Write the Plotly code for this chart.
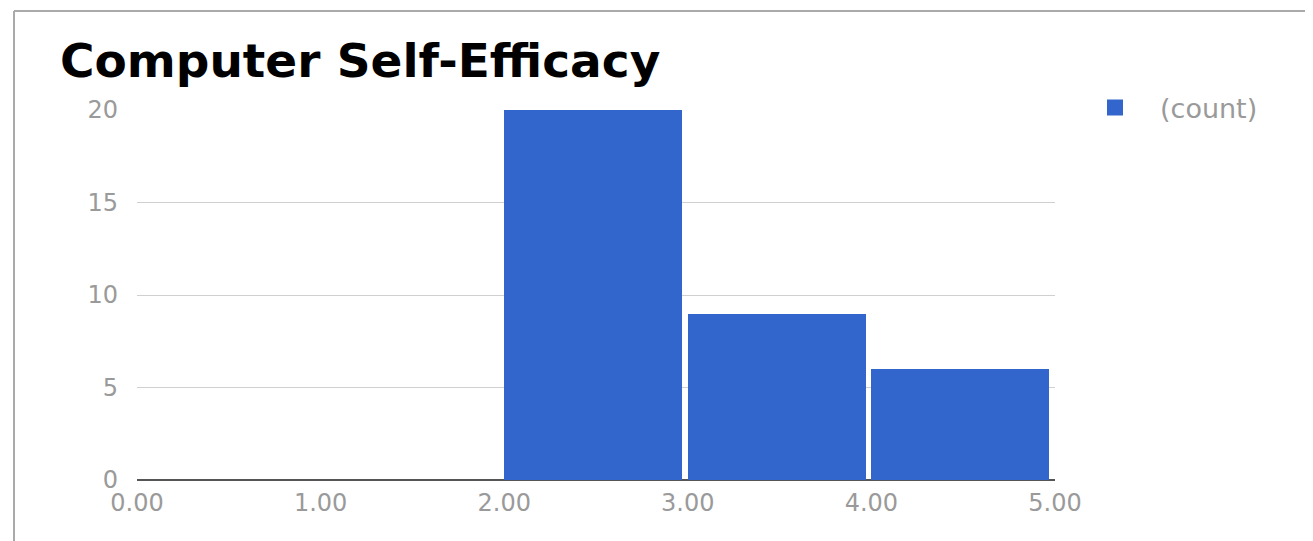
import plotly.graph_objects as go

# ---- data ----
bin_starts = [0.0, 1.0, 2.0, 3.0, 4.0]
counts = [0, 0, 20, 9, 6]
series_name = "(count)"
title_text = "Computer Self-Efficacy"
x_tick_vals = [0, 1, 2, 3, 4, 5]
x_tick_text = ["0.00", "1.00", "2.00", "3.00", "4.00", "5.00"]
y_tick_vals = [0, 5, 10, 15, 20]

OFF = 8  # browser body margin
W, H = 1313 - OFF, 541 - OFF
L, R, T, B = 137 - OFF, 258, 110 - OFF, 61
pw, ph = W - L - R, H - T - B

def px_x(p):
    return (p - OFF - L) / pw

def px_y(p):
    return (H - B - (p - OFF)) / ph

fig = go.Figure()
fig.add_trace(go.Bar(
    x=bin_starts, y=counts, width=0.97, offset=0.0,
    name=series_name, marker=dict(color="#3366cc", line=dict(width=0)),
    showlegend=False, legendgroup="c",
))
fig.add_trace(go.Scatter(
    x=[None], y=[None], mode="markers", name=series_name, legendgroup="c",
    marker=dict(symbol="square", size=30, color="#3366cc"), showlegend=True,
))

tick_font = dict(family="DejaVu Sans", size=24, color="#9a9a9a")

fig.update_layout(
    width=W, height=H,
    margin=dict(l=L, r=R, t=T, b=B),
    paper_bgcolor="white", plot_bgcolor="white",
    title=dict(text=title_text, x=(60 - OFF) / W, xref="container", xanchor="left",
               y=1 - (61 - OFF) / H, yref="container", yanchor="middle",
               font=dict(family="DejaVu Sans", size=47, color="#000000", weight="bold")),
    xaxis=dict(range=[0, 5], tickvals=x_tick_vals, ticktext=x_tick_text,
               showgrid=False, zeroline=False, showline=False,
               tickfont=tick_font, ticks="", ticklabelstandoff=6, fixedrange=True),
    yaxis=dict(range=[0, 20], tickvals=y_tick_vals, showgrid=True,
               gridcolor="#d0d0d0", gridwidth=1, zeroline=True,
               zerolinecolor="#555555", zerolinewidth=2, showline=False,
               tickfont=tick_font, ticks="", ticklabelstandoff=18, fixedrange=True),
    legend=dict(x=px_x(1070), y=px_y(108), xanchor="left", yanchor="middle",
                font=dict(family="DejaVu Sans", size=27, color="#9a9a9a"),
                itemwidth=80, bgcolor="rgba(0,0,0,0)"),
    bargap=0,
    showlegend=True,
)

# outer frame border (top and left)
fig.add_shape(type="line", xref="paper", yref="paper",
              x0=px_x(14), x1=px_x(1320), y0=px_y(11), y1=px_y(11),
              line=dict(color="#aaaaaa", width=2))
fig.add_shape(type="line", xref="paper", yref="paper",
              x0=px_x(14), x1=px_x(14), y0=px_y(11), y1=px_y(550),
              line=dict(color="#aaaaaa", width=2))

fig.write_html("out.html")
